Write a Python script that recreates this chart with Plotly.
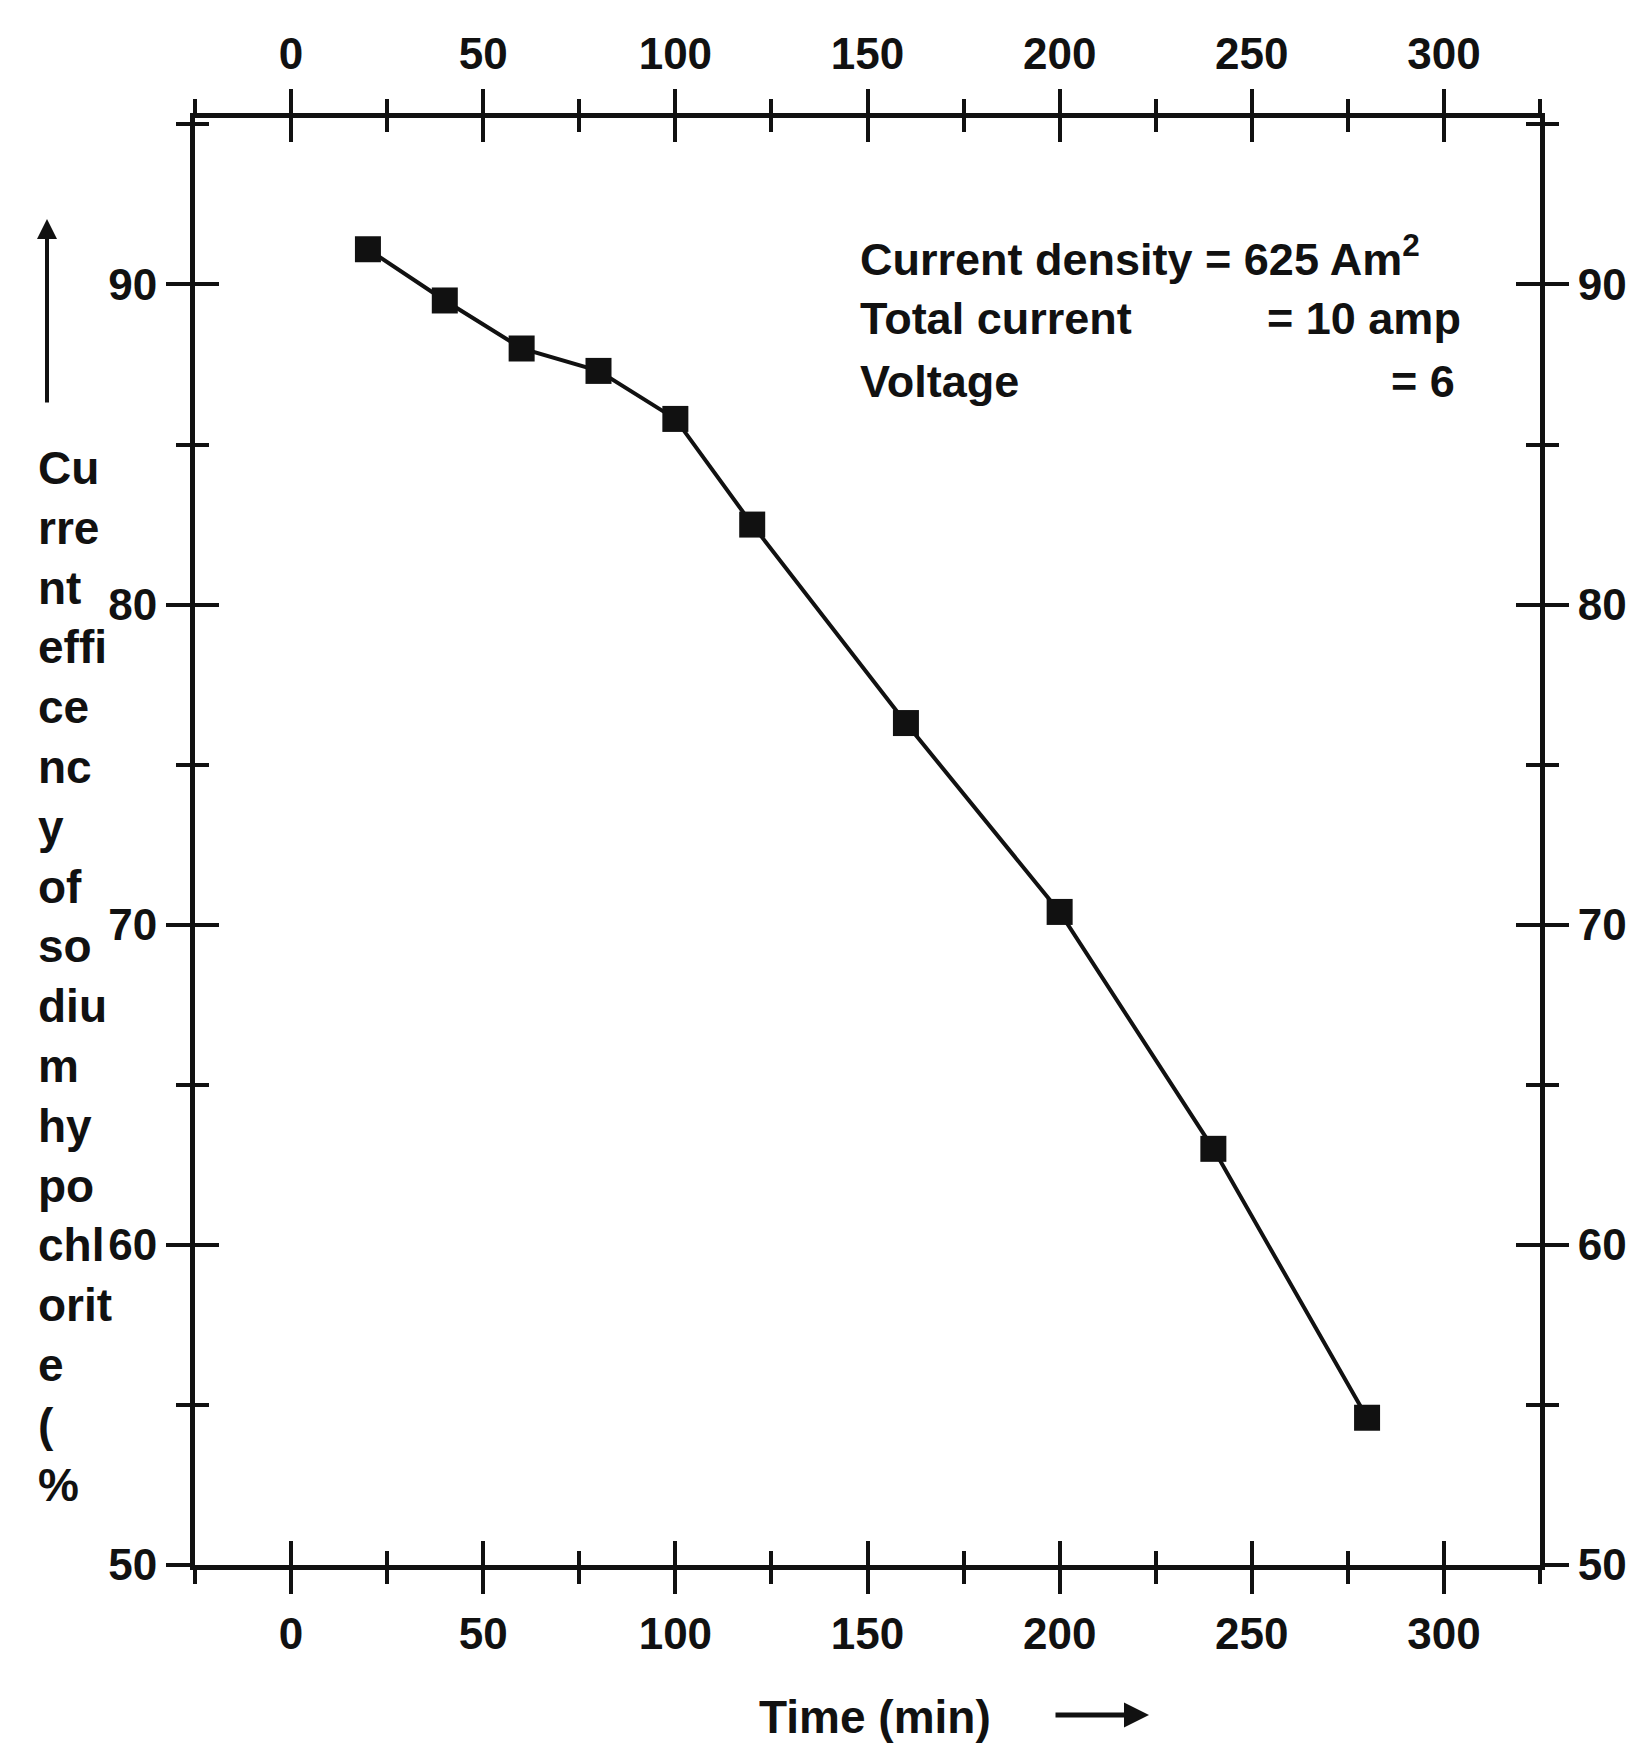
import plotly.graph_objects as go

# Electrolysis run: current efficiency of sodium hypochlorite vs. time
time_min = [20, 40, 60, 80, 100, 120, 160, 200, 240, 280]
efficiency_pct = [91.1, 89.5, 88.0, 87.3, 85.8, 82.5, 76.3, 70.4, 63.0, 54.6]

x_ticks = [0, 50, 100, 150, 200, 250, 300]
y_ticks = [50, 60, 70, 80, 90]

ylabel_parts = ["Cu", "rre", "nt", "effi", "ce", "nc", "y", "of", "so", "diu",
                "m", "hy", "po", "chl", "orit", "e", "(", "%"]

info_left = ["Current density = 625 Am<sup>2</sup>", "Total current", "Voltage"]
info_right = ["", "= 10 amp", "= 6"]

W, H = 1649, 1758
L, R, T, B = 195, 1540, 118, 1565
X_RANGE = [-25, 325]
Y_RANGE = [50, 95.2]

FONT = "Liberation Sans, Arial, sans-serif"
INK = "#111111"


def fx(px):
    return (px - L) / (R - L)


def fy(py):
    return (B - py) / (B - T)


def bold(s):
    return "<b>" + s + "</b>"


fig = go.Figure()

fig.add_trace(go.Scatter(
    x=time_min, y=efficiency_pct, mode="lines+markers",
    line=dict(color=INK, width=4),
    marker=dict(symbol="square", size=26, color=INK),
    xaxis="x", yaxis="y", showlegend=False, hoverinfo="skip",
))
# empty traces so the companion axes get drawn
for xa, ya in [("x2", "y2"), ("x3", "y3"), ("x4", "y4")]:
    fig.add_trace(go.Scatter(x=[None], y=[None], xaxis=xa, yaxis=ya,
                             showlegend=False, hoverinfo="skip"))

tick_font = dict(family=FONT, size=44, color=INK, weight="bold")


def xaxis(side, ticks, labels, anchor, overlay=None):
    d = dict(
        range=X_RANGE, side=side, anchor=anchor, tickmode="array", tickvals=x_ticks,
        showticklabels=labels, ticks=ticks, ticklen=24, tickwidth=4, tickcolor=INK,
        minor=dict(tickmode="linear", tick0=0, dtick=25, ticks=ticks, ticklen=14,
                   tickwidth=4, tickcolor=INK),
        showline=labels, linewidth=5, linecolor=INK, showgrid=False, zeroline=False,
        tickfont=tick_font, ticklabelstandoff=2,
    )
    if overlay:
        d["overlaying"] = overlay
    return d


def yaxis(side, ticks, labels, anchor, overlay=None):
    d = dict(
        range=Y_RANGE, side=side, anchor=anchor, tickmode="array", tickvals=y_ticks,
        showticklabels=labels, ticks=ticks, ticklen=24, tickwidth=4, tickcolor=INK,
        minor=dict(tickmode="linear", tick0=50, dtick=5, ticks=ticks, ticklen=14,
                   tickwidth=4, tickcolor=INK),
        showline=labels, linewidth=5, linecolor=INK, showgrid=False, zeroline=False,
        tickfont=tick_font, ticklabelstandoff=0,
    )
    if overlay:
        d["overlaying"] = overlay
    return d


fig.update_layout(
    width=W, height=H,
    margin=dict(l=L, r=W - R, t=T, b=H - B),
    paper_bgcolor="white", plot_bgcolor="white",
    font=dict(family=FONT, color=INK),
    # x/y: labelled bottom/left; x2/y2: labelled top/right;
    # x3/y3 and x4/y4 add the inward half of each crossing tick
    xaxis=xaxis("bottom", "outside", True, "y"),
    xaxis2=xaxis("top", "outside", True, "y2", "x"),
    xaxis3=xaxis("bottom", "inside", False, "y3", "x"),
    xaxis4=xaxis("top", "inside", False, "y4", "x"),
    yaxis=yaxis("left", "outside", True, "x"),
    yaxis2=yaxis("right", "outside", True, "x2", "y"),
    yaxis3=yaxis("left", "inside", False, "x3", "y"),
    yaxis4=yaxis("right", "inside", False, "x4", "y"),
)

ann = []
# stacked y-axis caption
ann.append(dict(
    xref="paper", yref="paper", x=fx(36), y=fy(440), xanchor="left", yanchor="top",
    align="left", showarrow=False, text="<br>".join(bold(p) for p in ylabel_parts),
    font=dict(family=FONT, size=46, color=INK),
))
# upward arrow above the caption
ann.append(dict(
    xref="paper", yref="paper", x=fx(47), y=fy(219), text="", showarrow=True,
    axref="pixel", ayref="pixel", ax=0, ay=185, arrowhead=2, arrowsize=1,
    arrowwidth=4, arrowcolor=INK,
))
# x-axis caption and arrow
ann.append(dict(
    xref="paper", yref="paper", x=fx(875), y=fy(1717), xanchor="center", yanchor="middle",
    showarrow=False, text=bold("Time (min)"), font=dict(family=FONT, size=46, color=INK),
))
ann.append(dict(
    xref="paper", yref="paper", x=fx(1149), y=fy(1715), text="", showarrow=True,
    axref="pixel", ayref="pixel", ax=-95, ay=0, arrowhead=2, arrowsize=1,
    arrowwidth=5, arrowcolor=INK,
))
# run conditions
row_y = [256, 318, 381]
right_x = [1454, 1463, 1457]
for txt_l, txt_r, yy, xr in zip(info_left, info_right, row_y, right_x):
    ann.append(dict(
        xref="paper", yref="paper", x=fx(858), y=fy(yy), xanchor="left", yanchor="middle",
        showarrow=False, text=bold(txt_l), font=dict(family=FONT, size=45, color=INK),
    ))
    if txt_r:
        ann.append(dict(
            xref="paper", yref="paper", x=fx(xr), y=fy(yy), xanchor="right",
            yanchor="middle", showarrow=False, text=bold(txt_r),
            font=dict(family=FONT, size=45, color=INK),
        ))
fig.update_layout(annotations=ann)

fig.write_html("out.html")
